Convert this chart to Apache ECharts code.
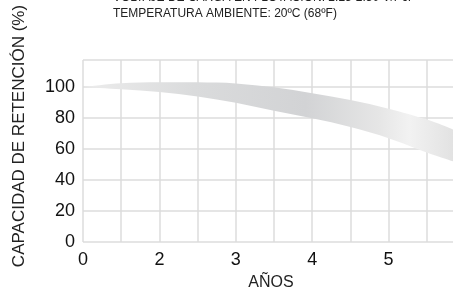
<!DOCTYPE html>
<html lang="es">
<head>
<meta charset="UTF-8">
<title>Capacidad de retención</title>
<script src="https://cdn.jsdelivr.net/npm/echarts@6/dist/echarts.min.js"></script>
<style>
  html, body { margin: 0; padding: 0; background: #fff; }
  #main { width: 453px; height: 293px; }
</style>
</head>
<body>
<div id="main"></div>
<script type="text/javascript">
// posiciones sobre el eje x (una división de la rejilla = 1)
var gridPos = [0, 1, 2, 3, 4, 5, 6, 7, 8, 9, 9.7];
// borde superior e inferior de la banda (%)
var upperEdge = [100, 102.4, 103, 103, 102.3, 99.8, 96, 91.6, 86, 79, 72.5];
var lowerEdge = [100, 98.5, 96.8, 93.8, 89.8, 84.6, 79.8, 74.2, 67, 57.8, 52];
// etiquetas del eje x, una por división
var xTickLabels = ['0', '', '2', '', '3', '', '4', '', '5', '', ''];
var yTicks = [0, 20, 40, 60, 80, 100];

var titleLines = ['VOLTAJE DE CARGA EN FLOTACIÓN: 2.25-2.30 V/Pc.', 'TEMPERATURA AMBIENTE: 20ºC (68ºF)'];

var chart = echarts.init(document.getElementById('main'));
var font = '"Liberation Sans", Arial, sans-serif';

// curva suave (catmull-rom) a partir de puntos en pixeles
function curveTo(pts) {
    var d = '';
    for (var i = 0; i < pts.length - 1; i++) {
        var p0 = pts[i - 1] || pts[i], p1 = pts[i], p2 = pts[i + 1], p3 = pts[i + 2] || pts[i + 1];
        var c1 = [p1[0] + (p2[0] - p0[0]) / 6, p1[1] + (p2[1] - p0[1]) / 6];
        var c2 = [p2[0] - (p3[0] - p1[0]) / 6, p2[1] - (p3[1] - p1[1]) / 6];
        d += ' C' + c1[0] + ',' + c1[1] + ' ' + c2[0] + ',' + c2[1] + ' ' + p2[0] + ',' + p2[1];
    }
    return d;
}

function renderBand(params, api) {
    var up = [], low = [];
    for (var i = 0; i < gridPos.length; i++) {
        up.push(api.coord([gridPos[i], upperEdge[i]]));
        low.push(api.coord([gridPos[i], lowerEdge[i]]));
    }
    low.reverse();
    var d = 'M' + up[0][0] + ',' + up[0][1] + curveTo(up) +
        ' L' + low[0][0] + ',' + low[0][1] + curveTo(low) + ' Z';
    return {
        type: 'path',
        shape: { pathData: d },
        style: {
            fill: new echarts.graphic.LinearGradient(0, 0, 1, 0, [
                { offset: 0, color: '#ececec' },
                { offset: 0.3, color: '#dadbdc' },
                { offset: 0.6, color: '#d2d3d5' },
                { offset: 0.8, color: '#e6e6e6' },
                { offset: 0.88, color: '#f2f2f2' },
                { offset: 1, color: '#e2e2e2' }
            ]),
            stroke: null
        }
    };
}

chart.setOption({
    animation: false,
    grid: { left: 83, top: 60, bottom: 51, width: 382, outerBoundsMode: 'none' },
    xAxis: {
        type: 'value', min: 0, max: 10, interval: 1,
        axisLine: { show: false }, axisTick: { show: false },
        splitLine: { lineStyle: { color: '#dddddd', width: 1.5 } },
        axisLabel: {
            margin: 9, fontSize: 18, color: '#111', fontFamily: font,
            formatter: function (v) { return xTickLabels[Math.round(v)] || ''; }
        }
    },
    yAxis: {
        type: 'value', min: 0, max: 117.4, interval: 20,
        axisLine: { show: false }, axisTick: { show: false },
        splitLine: { lineStyle: { color: '#dddddd', width: 1.5 } },
        axisLabel: {
            margin: 8, fontSize: 18, color: '#111', fontFamily: font,
            formatter: function (v) { return yTicks.indexOf(v) >= 0 ? String(v) : ''; }
        }
    },
    graphic: [
        { type: 'text', left: 113, top: -8, style: { text: titleLines[0], fill: '#222', font: '12px ' + font } },
        { type: 'text', left: 113, top: 8, style: { text: titleLines[1], fill: '#222', font: '12px ' + font } },
        { type: 'text', x: 271, y: 283, style: { text: 'AÑOS', fill: '#222', font: '16px ' + font, align: 'center', verticalAlign: 'middle' } },
        { type: 'text', x: 19, y: 136, rotation: Math.PI / 2, style: { text: 'CAPACIDAD DE RETENCIÓN (%)', fill: '#222', font: '17px ' + font, align: 'center', verticalAlign: 'middle' } }
    ],
    series: [
        {
            type: 'custom',
            renderItem: renderBand,
            data: [[0, 100]],
            silent: true
        }
    ]
});
</script>
</body>
</html>
